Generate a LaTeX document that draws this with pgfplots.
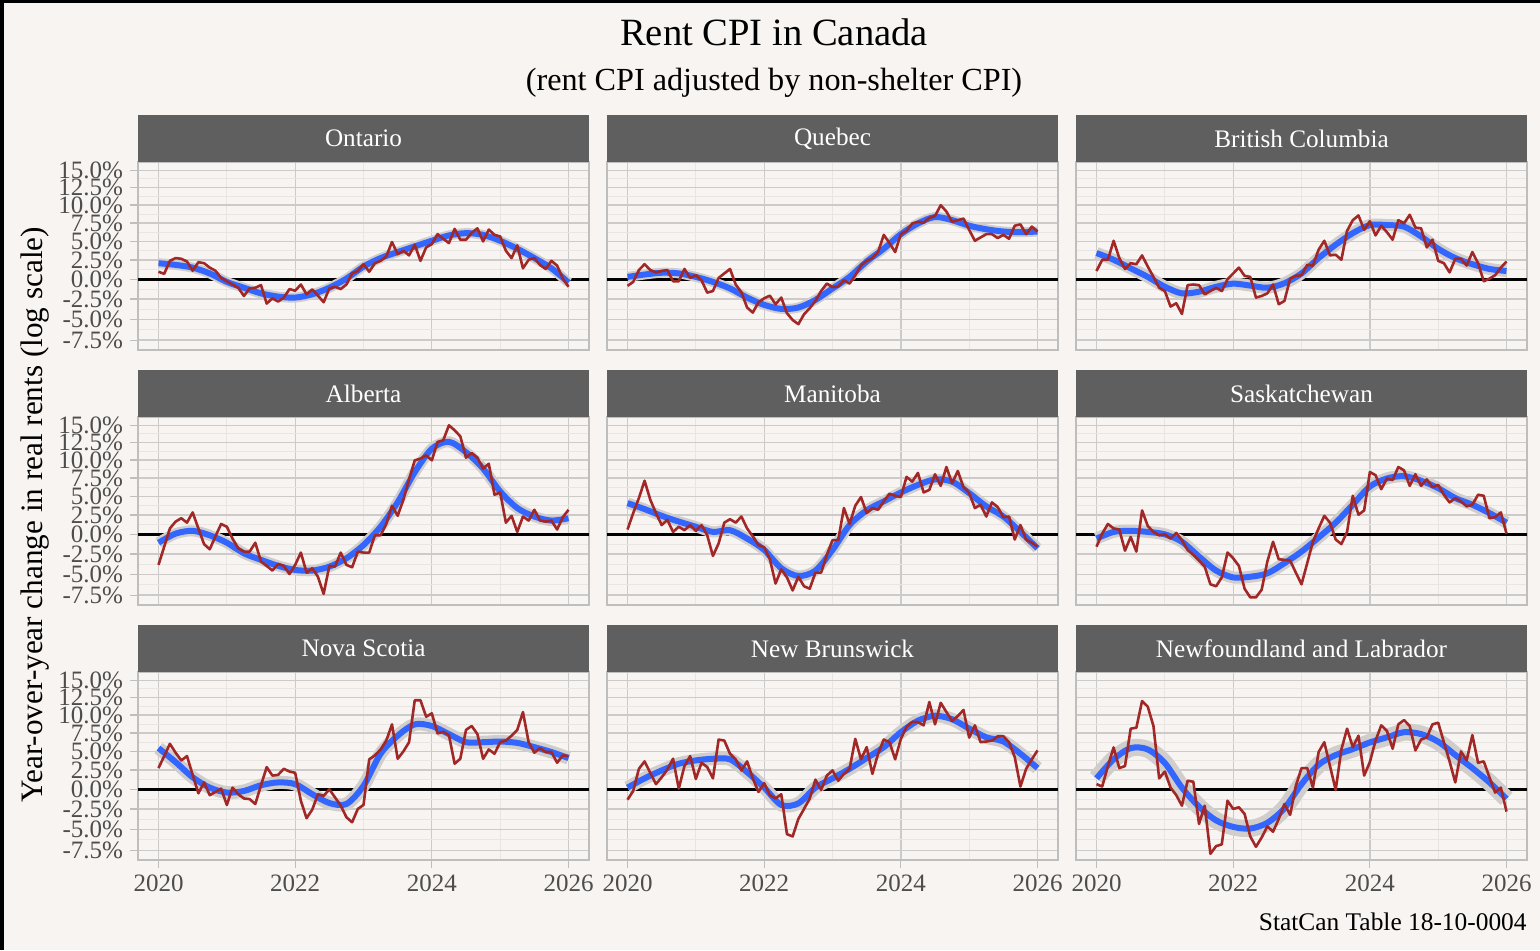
\documentclass[border=0pt]{standalone}
\usepackage{fontspec}
\setmainfont{Liberation Serif}
\usepackage{pgfplots}
\usepackage{pgfplotstable}
\pgfplotsset{compat=1.18}

\definecolor{bg}{RGB}{248,244,241}
\definecolor{strip}{RGB}{95,95,95}
\definecolor{gridmaj}{RGB}{204,203,202}
\definecolor{gridmin}{RGB}{232,229,227}
\definecolor{border}{RGB}{190,190,190}
\definecolor{rentred}{RGB}{162,40,40}
\definecolor{smoothblue}{RGB}{51,102,255}
\definecolor{band}{RGB}{208,205,202}
\definecolor{ticktext}{RGB}{77,77,77}

% monthly y/y change in real rents, %, month 0 = Jan 2020
\pgfplotstableread{
m   ON     QC     BC     AB     MB     SK     NS     NB     NL
0   0.98  -0.83   1.07  -3.84   0.62  -1.57   2.76  -1.32   0.67
1   0.71  -0.33   2.54  -1.57   2.76   0.09   4.36  -0.21   0.36
2   2.40   1.20   2.54   0.76   4.76   1.34   6.01   2.67   3.03
3   2.76   1.96   5.07   1.65   7.12   0.76   4.81   3.65   5.52
4   2.67   1.20   2.76   2.09   4.54   0.62   3.78   2.14   2.76
5   2.31   0.89   1.34   1.51   2.76  -2.07   4.36   0.67   3.03
6   1.11   1.07   2.09   2.85   1.20  -0.33   1.87   1.56   8.09
7   2.22   1.20   1.96   0.76   1.87  -2.19  -0.50   2.58   8.23
8   2.09  -0.25   3.12  -1.24   0.31   3.12   0.89   4.00  11.99
9   1.51  -0.25   1.65  -1.90   0.98   1.07  -0.74   0.09  11.18
10  1.11   1.34   0.31  -0.25   0.53   0.31  -0.33   3.03   8.46
11  0.18   0.18  -1.07   1.34   1.20  -0.12   0.09   4.36   1.42
12 -0.25   0.53  -1.49   0.98   0.45   0.00  -1.98   1.34   2.31
13 -0.66  -0.12  -3.43  -0.54   1.20  -0.54   0.22   3.47   0.22
14 -1.07  -1.69  -3.02  -1.78  -0.12   0.18  -0.62   2.89  -0.74
15 -2.11  -1.49  -4.34  -2.19  -2.73  -0.74  -1.16   1.42  -2.07
16 -1.16   0.18  -0.74  -2.19  -1.16  -1.98  -1.24   6.59   1.11
17 -1.07   0.76  -0.66  -1.07   1.51  -2.60  -1.86   6.45   0.98
18 -0.74   1.34  -0.74  -3.43   1.96  -3.30   0.53   4.67  -4.34
19 -3.06  -0.66  -1.90  -3.96   1.51  -4.05   2.89   3.92  -2.07
20 -2.40  -1.65  -1.49  -4.54   2.31  -6.20   1.78   2.45  -7.93
21 -2.81  -3.55  -1.07  -3.72   0.76  -6.44   1.87   3.65  -7.02
22 -2.31  -4.17  -1.49  -3.96  -0.25  -5.37   2.67   1.42  -6.81
23 -1.24  -2.89   0.00  -4.96  -1.36  -2.31   2.31  -0.33  -1.45
24 -1.45  -2.40   0.76  -3.84  -1.65  -3.02   2.14   0.80  -2.48
25 -0.66  -2.07   1.51  -2.31  -3.14  -3.96  -1.45  -0.74  -2.27
26 -1.90  -3.14   0.45  -4.79  -6.11  -6.73  -3.63  -1.16  -3.10
27 -1.28  -2.31   0.31  -4.25  -4.38  -7.76  -2.56  -0.62  -5.86
28 -2.07  -4.25  -2.31  -5.29  -5.37  -7.76  -0.62  -5.58  -7.10
29 -2.89  -5.08  -2.11  -7.35  -6.94  -6.86  -0.83  -5.86  -5.99
30 -1.16  -5.58  -1.78  -3.96  -5.29  -3.43   0.00  -3.72  -4.63
31 -0.95  -4.38  -0.66  -4.05  -6.44  -0.95  -1.03  -2.48  -5.29
32 -1.24  -3.63  -3.14  -2.31  -6.73  -3.14  -2.07  -1.16  -3.72
33 -0.66  -2.73  -2.73  -3.84  -4.79  -3.22  -3.51   1.25  -1.86
34  0.76  -1.49   0.09  -4.13  -4.79  -3.30  -4.13  -0.08  -3.22
35  1.07  -0.54   0.45  -2.19  -2.60  -4.79  -2.48   1.78   0.45
36  1.96  -0.99   0.53  -2.31  -0.74  -6.20  -1.98   2.45   2.76
37  0.98  -0.91   1.87  -2.31  -0.74  -3.63   3.92   1.11   2.76
38  2.09  -0.12   1.78  -0.12   3.43  -0.95   4.45   2.00   0.22
39  2.40  -0.54   3.87  -0.12   1.34   0.76   5.25   2.67   4.90
40  2.98   0.53   5.07   1.34   3.74   2.40   6.45   6.68   6.23
41  4.90   1.78   3.12   3.74   4.90   1.51   8.69   3.92   3.03
42  3.29   2.40   3.20   2.40   2.76  -0.66   4.00   5.56  -0.08
43  3.74   2.76   2.54   4.54   3.43  -1.24   4.98   2.00   5.25
44  3.12   3.56   6.41   7.30   3.20   0.31   6.23   4.67   8.09
45  4.54   5.87   7.88   9.95   4.32   5.07  12.10   6.59   5.56
46  2.40   4.76   8.54  10.19   5.34   2.54  12.10   6.23   7.12
47  4.18   3.56   6.54  10.66   5.07   3.12   9.76   3.92   1.78
48  4.63   5.96   7.74   9.95   4.90   8.32  10.23   6.68   3.56
49  5.96   6.41   5.79  12.57   7.65   7.88   7.44   8.37   6.45
50  5.34   7.43   7.12  12.81   6.99   5.96   7.65   9.02   8.55
51  4.76   7.65   6.23  15.00   8.19   7.43   7.21   9.02   7.78
52  6.68   7.52   5.21  14.27   5.52   7.21   3.34   8.55   5.34
53  5.21   8.19   7.88  13.39   5.87   9.02   4.00  11.85   8.69
54  5.21   8.46   7.43  10.33   8.01   8.55   7.92   8.69   9.29
55  6.14   9.97   8.63  10.99   6.41   6.41   8.46  11.73   8.46
56  6.76   9.08   6.85  10.33   9.02   8.01   7.34  10.42   5.12
57  4.98   7.65   6.76   8.78   6.76   6.41   4.00   9.16   6.59
58  6.59   7.88   4.18   9.48   8.46   7.30   5.25   9.86   6.90
59  5.87   8.10   5.21   5.21   6.23   6.23   4.67  10.71   8.69
60  5.65   6.54   2.40   5.52   5.43   6.54   6.23   6.85   8.92
61  3.74   5.07   2.09   1.51   3.43   5.21   6.45   8.55   6.23
62  2.76   5.52   0.89   2.40   3.87   4.18   7.12   6.23   3.65
63  4.45   5.96   2.67   0.31   2.31   4.76   7.92   6.32   0.89
64  1.42   5.96   2.67   2.31   4.18   4.32  10.42   6.45   4.98
65  2.54   5.43   1.78   1.78   3.56   3.65   6.23   7.03   3.78
66  2.76   5.87   3.56   3.20   2.22   3.87   4.81   7.03   7.21
67  1.87   5.34   2.09   1.78   2.31   5.21   5.43   6.23   3.47
68  1.34   7.12  -0.25   1.65  -0.66   5.07   4.90   4.23   3.65
69  2.40   7.30   0.09   1.78   1.20   2.09   4.90   0.36   1.56
70  1.78   5.96   0.53   0.62  -0.66   2.22   3.47   2.67  -0.41
71  0.09   6.99   1.51   2.22  -1.07   2.85   4.45   3.92   0.22
72 -0.95   6.32   2.31   3.20  -1.57   0.09   4.36   5.12  -2.81
}\monthly

% loess fit, read every 3 months
\pgfplotstableread{
m   ON     QC     BC     AB     MB     SK     NS     NB     NL
0   2.09   0.31   3.43  -1.07   4.09  -0.54   5.43   0.22   1.42
3   1.87   0.62   2.54   0.09   3.29   0.31   3.56   1.42   3.92
6   1.51   0.85   1.42   0.45   2.40   0.45   1.56   2.45   5.43
9   0.76   0.76   0.31  -0.12   1.65   0.31   0.22   3.34   5.25
12 -0.33   0.31  -0.95  -1.07   0.98   0.00  -0.41   3.78   3.43
15 -1.07  -0.33  -1.78  -2.40   0.31  -0.95  -0.21   4.00   0.22
18 -1.78  -1.16  -1.57  -3.22   0.53  -2.81   0.53   3.92  -2.20
21 -2.19  -2.31  -0.95  -3.96  -0.54  -4.54   0.89   2.23  -3.90
24 -2.31  -3.22  -0.55  -4.46  -1.98  -5.37   0.67   0.22  -4.70
27 -1.90  -3.72  -0.80  -4.54  -4.25  -5.29  -0.62  -1.98  -4.90
30 -1.07  -3.55  -1.07  -4.05  -5.20  -4.87  -1.74  -1.78  -4.20
33  0.09  -2.60  -0.50  -3.02  -4.54  -3.63  -1.86   0.22  -2.40
36  1.65  -1.16   0.76  -1.36  -1.98  -2.19   0.45   1.42   0.67
39  2.76   0.31   2.76   0.98   1.20  -0.41   4.67   2.67   3.20
42  3.56   2.31   4.54   4.20   3.12   1.51   7.12   4.10   4.50
45  4.32   4.00   6.10   8.30   4.32   3.87   8.69   5.56   5.30
48  5.07   5.96   7.21  11.60   5.52   6.32   8.46   7.60   6.20
51  5.79   7.43   7.21  12.60   6.54   7.43   7.34   9.20   6.90
54  6.10   8.32   6.99  11.10   7.30   7.74   6.23   9.90   7.60
57  5.87   7.88   5.65   8.80   6.99   7.12   6.23   9.40   7.34
60  5.07   7.12   4.00   5.65   5.43   6.10   6.32   8.10   6.30
63  4.00   6.63   2.76   3.43   3.65   4.76   6.14   6.90   4.50
66  2.76   6.32   1.96   2.31   2.31   3.87   5.56   6.32   2.76
69  1.42   6.23   1.34   1.78   0.31   2.76   4.90   4.67   0.89
72 -0.41   6.32   1.07   2.09  -1.78   1.51   4.09   2.76  -1.20
}\smoothed

\pgfplotsset{
  panel/.style={
    scale only axis, width=225.5pt, height=94pt,
    xmin=-3.6, xmax=75.6, ymin=-0.0906, ymax=0.1504,
    y filter/.expression={ln(1+y/100)},
    xtick={0,24,48,72}, xticklabels={2020,2022,2024,2026},
    minor xtick={12,36,60},
    ytick={-0.07796,-0.05129,-0.02532,0,0.02469,0.04879,0.07232,0.09531,0.11778,0.13976},
    yticklabels={-7.5\%,-5.0\%,-2.5\%,0.0\%,2.5\%,5.0\%,7.5\%,10.0\%,12.5\%,15.0\%},
    minor ytick={-0.06463,-0.03831,-0.01266,0.01235,0.03674,0.06056,0.08382,0.10655,0.12877},
    grid=both,
    major grid style={gridmaj, line width=0.65pt},
    minor grid style={gridmin, line width=0.4pt},
    axis line style={border, line width=0.6pt},
    tick align=outside, major tick length=4pt, minor tick length=0pt,
    xtick pos=bottom, ytick pos=left,
    tick style={border, line width=0.6pt},
    ticklabel style={font=\fontsize{12.5}{13}\selectfont, text=ticktext},
    every axis title/.style={at={(0.5,1)}, anchor=south, fill=strip, text=white,
      minimum width=225.5pt, minimum height=23.5pt, inner sep=0pt, outer sep=0pt,
      font=\fontsize{12.6}{14}\selectfont},
    axis background/.style={fill=bg},
  },
  noy/.style={yticklabels={}, ytick style={draw=none}},
  nox/.style={xticklabels={}, xtick style={draw=none}},
}

\newcommand{\series}[2]{%
  \draw[black, line width=1.3pt] (axis cs:-3.6,0) -- (axis cs:75.6,0);
  \addplot[band, line width=#2, smooth] table[x=m, y=#1] {\smoothed};
  \addplot[smoothblue, line width=3pt, smooth] table[x=m, y=#1] {\smoothed};
  \addplot[rentred, line width=1.3pt, line join=round] table[x=m, y=#1] {\monthly};
}

\begin{document}
\begin{tikzpicture}
\path[use as bounding box, fill=bg] (0,0) rectangle (770pt,475pt);
\fill[black] (0,0) rectangle (2pt,475pt);
\fill[black] (0,473.5pt) rectangle (770pt,475pt);

\begin{axis}[panel, nox, at={(69pt,300pt)}, anchor=south west, title={Ontario}]
\series{ON}{5pt}
\end{axis}
\begin{axis}[panel, nox, noy, at={(303.5pt,300pt)}, anchor=south west, title={Quebec}]
\series{QC}{5pt}
\end{axis}
\begin{axis}[panel, nox, noy, at={(538pt,300pt)}, anchor=south west, title={British Columbia}]
\series{BC}{6pt}
\end{axis}

\begin{axis}[panel, nox, at={(69pt,172.5pt)}, anchor=south west, title={Alberta}]
\series{AB}{5.5pt}
\end{axis}
\begin{axis}[panel, nox, noy, at={(303.5pt,172.5pt)}, anchor=south west, title={Manitoba}]
\series{MB}{5.5pt}
\end{axis}
\begin{axis}[panel, nox, noy, at={(538pt,172.5pt)}, anchor=south west, title={Saskatchewan}]
\series{SK}{6pt}
\end{axis}

\begin{axis}[panel, at={(69pt,45pt)}, anchor=south west, title={Nova Scotia}]
\series{NS}{6.5pt}
\end{axis}
\begin{axis}[panel, noy, at={(303.5pt,45pt)}, anchor=south west, title={New Brunswick}]
\series{NB}{6.5pt}
\end{axis}
\begin{axis}[panel, noy, at={(538pt,45pt)}, anchor=south west, title={Newfoundland and Labrador}]
\series{NL}{8.5pt}
\end{axis}

\node[anchor=base, font=\fontsize{19.3}{23}\selectfont] at (387pt,452pt) {Rent CPI in Canada};
\node[anchor=base, font=\fontsize{16.1}{19}\selectfont] at (387pt,429.75pt) {(rent CPI adjusted by non-shelter CPI)};
\node[rotate=90, font=\fontsize{15.6}{18}\selectfont] at (17.5pt,217.5pt) {Year-over-year change in real rents (log scale)};
\node[anchor=base east, inner sep=0pt, font=\fontsize{12.7}{15}\selectfont] at (763.5pt,9.75pt) {StatCan Table 18-10-0004};
\end{tikzpicture}
\end{document}
